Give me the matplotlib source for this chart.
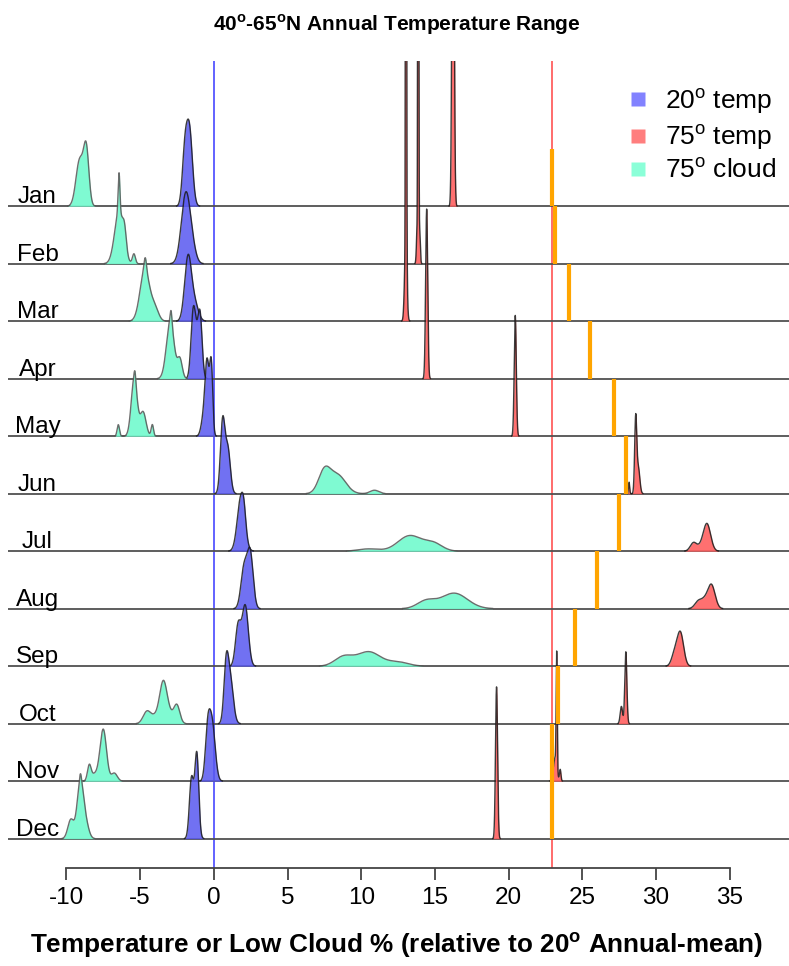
import numpy as np
import matplotlib
matplotlib.use('Agg')
import matplotlib.pyplot as plt
from matplotlib.lines import Line2D

plt.rcParams['font.family'] = ['Liberation Sans', 'DejaVu Sans']
plt.rcParams['mathtext.fontset'] = 'custom'
plt.rcParams['mathtext.rm'] = 'Liberation Sans'
plt.rcParams['mathtext.bf'] = 'Liberation Sans:bold'
plt.rcParams['axes.unicode_minus'] = False

months = ['Jan', 'Feb', 'Mar', 'Apr', 'May', 'Jun',
          'Jul', 'Aug', 'Sep', 'Oct', 'Nov', 'Dec']

# density peaks per month: (centre, spread, height in row units)
temp20 = [
    [(-1.65, 0.2, 1.3), (-1.97, 0.17, 0.85)],
    [(-1.9, 0.3, 1.21), (-1.45, 0.25, 0.2)],
    [(-1.75, 0.23, 1.1), (-1.3, 0.25, 0.3)],
    [(-1.4, 0.15, 1.1), (-0.93, 0.14, 1.05), (-1.17, 0.15, 0.45)],
    [(-0.45, 0.14, 1.25), (-0.17, 0.1, 1.18), (-0.7, 0.16, 0.3)],
    [(0.6, 0.15, 1.25), (0.95, 0.17, 0.78)],
    [(1.85, 0.25, 0.95), (2.05, 0.12, 0.2)],
    [(2.47, 0.2, 0.95), (2.05, 0.21, 0.7)],
    [(2.13, 0.21, 1.05), (1.65, 0.18, 0.7)],
    [(0.83, 0.15, 0.85), (1.1, 0.21, 0.8)],
    [(-0.42, 0.16, 0.75), (-0.12, 0.21, 1.0)],
    [(-1.15, 0.13, 1.33), (-1.52, 0.14, 0.95), (-1.3, 0.2, 0.2)],
]
temp75 = [
    [(16.23, 0.07, 8.0)],
    [(13.87, 0.025, 30.0), (13.8, 0.05, 0.65), (13.95, 0.05, 0.65)],
    [(13.04, 0.025, 40.0), (13.02, 0.08, 1.35), (13.06, 0.04, 1.5)],
    [(14.44, 0.07, 2.95)],
    [(20.45, 0.07, 2.1)],
    [(28.62, 0.07, 1.3), (28.8, 0.1, 0.45), (28.17, 0.04, 0.2)],
    [(33.45, 0.25, 0.48), (32.55, 0.22, 0.15), (33.0, 0.2, 0.05)],
    [(33.75, 0.25, 0.42), (32.9, 0.25, 0.14), (33.3, 0.2, 0.1)],
    [(31.65, 0.22, 0.58), (31.25, 0.2, 0.2)],
    [(27.95, 0.07, 1.25), (27.65, 0.08, 0.3)],
    [(23.26, 0.035, 2.0), (23.15, 0.12, 0.4), (23.5, 0.05, 0.2)],
    [(19.18, 0.07, 2.64)],
]
cloud75 = [
    [(-8.65, 0.18, 0.95), (-9.1, 0.25, 0.8)],
    [(-6.43, 0.3, 0.9), (-6.43, 0.06, 0.68), (-6.05, 0.12, 0.3), (-5.42, 0.1, 0.17)],
    [(-4.68, 0.32, 0.9), (-4.65, 0.08, 0.2), (-4.0, 0.25, 0.22)],
    [(-2.95, 0.26, 1.0), (-2.9, 0.06, 0.2), (-2.3, 0.16, 0.33)],
    [(-5.4, 0.2, 1.0), (-5.35, 0.06, 0.15), (-4.8, 0.2, 0.42), (-6.48, 0.08, 0.2), (-4.17, 0.08, 0.2)],
    [(7.5, 0.4, 0.38), (8.4, 0.55, 0.32), (10.9, 0.3, 0.06)],
    [(13.3, 0.8, 0.27), (14.9, 0.6, 0.13), (10.5, 0.7, 0.04)],
    [(16.3, 0.9, 0.27), (14.4, 0.6, 0.13)],
    [(10.5, 0.8, 0.25), (8.8, 0.6, 0.16), (12.5, 0.7, 0.07)],
    [(-3.43, 0.25, 0.68), (-2.5, 0.2, 0.3), (-4.55, 0.25, 0.2), (-3.0, 0.3, 0.15), (-4.0, 0.3, 0.12)],
    [(-7.5, 0.22, 0.9), (-8.45, 0.12, 0.25), (-8.1, 0.25, 0.12), (-6.75, 0.2, 0.14)],
    [(-9.05, 0.22, 1.0), (-9.05, 0.06, 0.1), (-9.7, 0.2, 0.33), (-8.65, 0.2, 0.2)],
]
# orange monthly marker (75 deg)
marker75 = [22.95, 23.15, 24.1, 25.55, 27.15, 27.95, 27.5, 26.0, 24.5, 23.35, 22.95, 22.95]
ref20 = 0.0
ref75 = 22.95
tick_vals = [-10, -5, 0, 5, 10, 15, 20, 25, 30, 35]
tick_labels = ['-10', '-5', '0', '5', '10', '15', '20', '25', '30', '35']

c_blue = '#5858F0'
c_red = '#FF6060'
c_teal = '#78FAD0'

fig = plt.figure(figsize=(7.89, 9.66), dpi=100)
ax = fig.add_axes([8 / 789, 98 / 966, 781 / 789, 807 / 966])
ax.set_xlim(-13.962, 39.02)
ax.set_ylim(-0.51, 13.525)


def draw_ridge(comps, base, color, z, edge='#1a1a1a', alpha=0.85):
    lo = min(c - 4.5 * s for c, s, h in comps)
    hi = max(c + 4.5 * s for c, s, h in comps)
    x = np.linspace(lo, hi, 4000)
    d = np.zeros_like(x)
    for c, s, h in comps:
        d += h * np.exp(-0.5 * ((x - c) / s) ** 2)
    idx = np.where(d > 0.004)[0]
    x = x[idx[0]:idx[-1] + 1]
    d = d[idx[0]:idx[-1] + 1]
    ax.fill_between(x, base, base + d, color=color, alpha=alpha, lw=0, zorder=z)
    ax.plot(x, base + d, color=edge, lw=1.0, alpha=0.85, zorder=z + 0.01)


n = len(months)
ax.axvline(ref20, color='#4848FF', lw=1.2, zorder=1)
ax.axvline(ref75, color='#FF6B6B', lw=1.4, zorder=1)

for i, m in enumerate(months):
    base = n - 1 - i
    z = 2 + i
    ax.plot([-14.5, 40], [base, base], color='#505050', lw=1.3, zorder=z - 0.1)
    ax.text(-11.96, base + 0.05, m, ha='center', va='baseline', fontsize=17.5, zorder=40)
    draw_ridge(temp20[i], base, c_blue, z + 0.2)
    draw_ridge(temp75[i], base, c_red, z + 0.3, alpha=0.9)
    draw_ridge(cloud75[i], base, c_teal, z + 0.4, edge='#555555', alpha=0.95)
    ax.vlines(marker75[i], base, base + 1, color='#FFA500', lw=3, zorder=30)

for s in ['top', 'right', 'left']:
    ax.spines[s].set_visible(False)
ax.spines['bottom'].set_bounds(-10, 35)
ax.spines['bottom'].set_color('#444444')
ax.spines['bottom'].set_linewidth(1.3)
ax.set_yticks([])
ax.set_xticks(tick_vals)
ax.set_xticklabels(tick_labels)
ax.tick_params(axis='x', length=8.5, width=1.3, color='#444444', labelsize=17.5, pad=5)

fig.text(0.5025, 1 - 25 / 966, r'40$^{\mathbf{o}}$-65$^{\mathbf{o}}$N Annual Temperature Range',
         ha='center', va='center', fontsize=15, weight='bold')
fig.text(0.502, 1 - 945 / 966, r'Temperature or Low Cloud % (relative to 20$^{\mathbf{o}}$ Annual-mean)',
         ha='center', va='center', fontsize=18.8, weight='bold')

handles = [Line2D([], [], marker='s', ls='none', markersize=10, color=c, alpha=0.9, mec='none')
           for c in ['#7474FF', '#FF7070', '#7FFFD4']]
labels = [r'20$^{\mathrm{o}}$ temp', r'75$^{\mathrm{o}}$ temp', r'75$^{\mathrm{o}}$ cloud']
fig.legend(handles, labels, loc='upper left', bbox_to_anchor=(0.792, 0.911), frameon=False,
           fontsize=19, handlelength=1.0, handletextpad=0.53, labelspacing=0.25,
           borderpad=0, borderaxespad=0)

fig.savefig('out.png', dpi=100)
